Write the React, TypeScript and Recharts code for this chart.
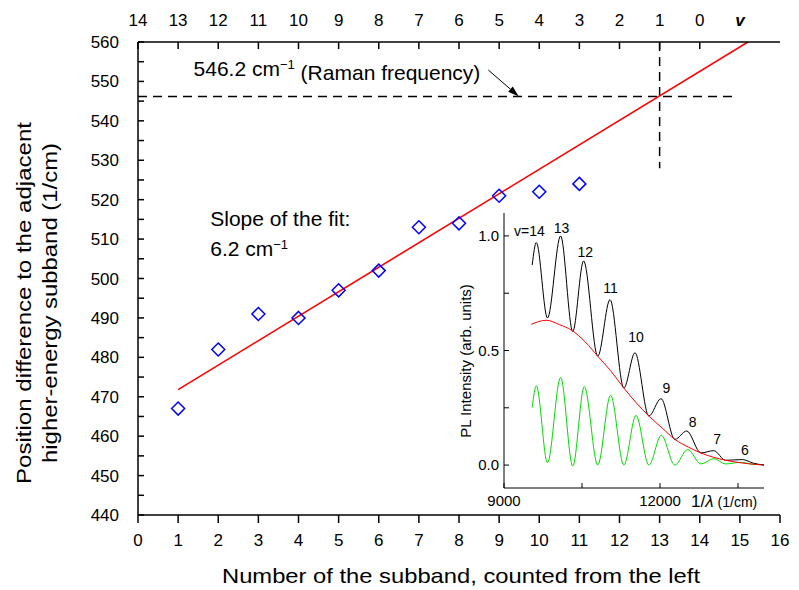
import React from "react";
import { ComposedChart, Line, Scatter, XAxis, YAxis, ReferenceLine } from "recharts";

const FONT = "'Liberation Sans', Arial, Helvetica, sans-serif";

// main panel: subband spacing vs subband number
const subbands = [1, 2, 3, 4, 5, 6, 7, 8, 9, 10, 11];
const positionDiff = [467, 482, 491, 490, 497, 502, 513, 514, 521, 522, 524];
const fitX = [1, 15.2];
const fitY = [471.8, 560];
const bottomTicks = [0, 1, 2, 3, 4, 5, 6, 7, 8, 9, 10, 11, 12, 13, 14, 15, 16];
const topTicks = [0, 1, 2, 3, 4, 5, 6, 7, 8, 9, 10, 11, 12, 13, 14, 15];
const topLabels = ["14", "13", "12", "11", "10", "9", "8", "7", "6", "5", "4", "3", "2", "1", "0", "v"];
const yTicks = [440, 445, 450, 455, 460, 465, 470, 475, 480, 485, 490, 495, 500, 505, 510, 515, 520, 525, 530, 535, 540, 545, 550, 555, 560];
const ramanFreq = 546.2;
const ramanLineEnd = 14.9;
const ramanSubband = 13;
const ramanMarkBottom = 528;
const arrowFrom = { x: 8.73, y: 552.9 };
const arrowTo = { x: 9.49, y: 546.2 };

const noteX = [1.385, 1.8, 1.8];
const noteY = [553.3, 515.3, 507.5];
const noteText = ["546.2 cm", "Slope of the fit:", "6.2 cm"];
const noteSup = ["\u22121", "", "\u22121"];
const noteTail = [" (Raman frequency)", "", ""];

// inset: PL spectrum
const blackX = [9542, 9622, 9836, 10089, 10322, 10531, 10803, 11039, 11305, 11519, 11786, 12019, 12286, 12514, 12786, 13033, 13261, 13585, 13800, 14000];
const blackY = [0.873, 0.971, 0.642, 1.0, 0.583, 0.891, 0.475, 0.722, 0.336, 0.49, 0.214, 0.29, 0.112, 0.149, 0.053, 0.063, 0.021, 0.024, 0.008, 0.0];
const redX = [9523, 9817, 10064, 10303, 10564, 10803, 11050, 11305, 11539, 11786, 12050, 12286, 12550, 12786, 13261, 13700, 14000];
const redY = [0.614, 0.632, 0.613, 0.588, 0.537, 0.475, 0.412, 0.336, 0.273, 0.214, 0.16, 0.112, 0.078, 0.053, 0.021, 0.006, 0.0];
const greenX = [9542, 9622, 9836, 10089, 10322, 10544, 10803, 11050, 11305, 11539, 11786, 12025, 12286, 12533, 12786, 13033, 13261, 13554, 13800, 14000];
const greenY = [0.251, 0.346, 0.01, 0.383, -0.005, 0.343, 0.0, 0.305, 0.0, 0.217, 0.0, 0.13, 0.0, 0.068, 0.005, 0.028, 0.005, 0.012, 0.003, 0.002];
const peakNames = ["v=14", "13", "12", "11", "10", "9", "8", "7", "6"];
const peakX = [9490, 10108, 10564, 11050, 11539, 12124, 12629, 13098, 13631];
const peakY = [1.023, 1.034, 0.931, 0.774, 0.558, 0.336, 0.188, 0.115, 0.068];
const insetXTicks = [9000, 10500, 12000, 13500];
const insetXLabeled = [9000, 12000];
const insetYTicks = [0, 0.25, 0.5, 0.75, 1.0];
const insetYLabeled = [0, 0.5, 1.0];

const zip = (xs: number[], ys: number[]) => xs.map((x, i) => ({ x, y: ys[i] }));

const points = zip(subbands, positionDiff);
const fit = zip(fitX, fitY);
const notes = noteX.map((x, i) => ({ x, y: noteY[i], text: noteText[i], sup: noteSup[i], tail: noteTail[i] }));
const blackPts = zip(blackX, blackY);
const redPts = zip(redX, redY);
const greenPts = zip(greenX, greenY);
const peaks = peakX.map((x, i) => ({ x, y: peakY[i], name: peakNames[i] }));

function Diamond(props: any) {
  const { cx, cy } = props;
  const r = 6.5;
  return (
    <polygon
      points={`${cx},${cy - r} ${cx + r},${cy} ${cx},${cy + r} ${cx - r},${cy}`}
      fill="none"
      stroke="#0000ff"
      strokeWidth={1.5}
    />
  );
}

function Note(props: any) {
  const { cx, cy, payload } = props;
  return (
    <text x={cx} y={cy} dy="0.36em" fontFamily={FONT} fontSize={21} fill="#000">
      {payload.text}
      {payload.sup ? (
        <tspan dy="-0.55em" fontSize={13}>{payload.sup}</tspan>
      ) : null}
      {payload.tail ? <tspan dy="0.55em">{payload.tail}</tspan> : null}
    </text>
  );
}

function PeakLabel(props: any) {
  const { cx, cy, payload } = props;
  return (
    <text x={cx} y={cy} dy="0.36em" textAnchor="middle" fontFamily={FONT} fontSize={14} fill="#000">
      {payload.name}
    </text>
  );
}

// top axis: label plus inward tick (no tick under the "v")
function TopTick(props: any) {
  const { x, y, payload } = props;
  const label = topLabels[topTicks.indexOf(payload.value)];
  const isV = label === "v";
  return (
    <g>
      {!isV && <line x1={x} y1={y + 16.5} x2={x} y2={y + 23.5} stroke="#000" strokeWidth={1.5} />}
      <text
        x={x}
        y={y}
        textAnchor="middle"
        fontFamily={FONT}
        fontSize={17}
        fontStyle={isV ? "italic" : "normal"}
        fontWeight={isV ? "bold" : "normal"}
        fill="#000"
      >
        {label}
      </text>
    </g>
  );
}

function Arrow(props: any) {
  const { x1, y1, x2, y2 } = props;
  const a = Math.atan2(y2 - y1, x2 - x1);
  const len = 11;
  const w = 3.5;
  const bx = x2 - len * Math.cos(a);
  const by = y2 - len * Math.sin(a);
  const px = -Math.sin(a) * w;
  const py = Math.cos(a) * w;
  return (
    <g>
      <line x1={x1} y1={y1} x2={bx} y2={by} stroke="#000" strokeWidth={1} />
      <polygon points={`${x2},${y2} ${bx + px},${by + py} ${bx - px},${by - py}`} fill="#000" />
    </g>
  );
}

const YTitle = () => (
  <g fontFamily={FONT} fontSize={21} fill="#000">
    <text x={31} y={303} transform="rotate(-90 31 303)" textAnchor="middle" textLength={362} lengthAdjust="spacingAndGlyphs">
      Position difference to the adjacent
    </text>
    <text x={57} y={303} transform="rotate(-90 57 303)" textAnchor="middle" textLength={320} lengthAdjust="spacingAndGlyphs">
      higher-energy subband (1/cm)
    </text>
  </g>
);

const XTitle = () => (
  <text x={461} y={583} textAnchor="middle" fontFamily={FONT} fontSize={21} fill="#000" textLength={478} lengthAdjust="spacingAndGlyphs">
    Number of the subband, counted from the left
  </text>
);

const InsetYTitle = () => (
  <text x={71} y={161} transform="rotate(-90 71 161)" textAnchor="middle" fontFamily={FONT} fontSize={15} fill="#000">
    PL Intensity (arb. units)
  </text>
);

const InsetXTitle = () => (
  <text x={291} y={307} fontFamily={FONT} fill="#000">
    <tspan fontSize={17}>1/</tspan>
    <tspan fontSize={17} fontStyle="italic">λ</tspan>
    <tspan fontSize={14} dx={4}>(1/cm)</tspan>
  </text>
);

function Inset() {
  const tick = { fill: "#000", fontSize: 15, fontFamily: FONT };
  return (
    <div style={{ position: "absolute", left: 400, top: 200 }}>
      <ComposedChart width={380} height={320} margin={{ top: 13, right: 16, bottom: 0, left: 0 }}>
        <XAxis
          type="number"
          dataKey="x"
          domain={[9000, 14000]}
          ticks={insetXTicks}
          interval={0}
          tickFormatter={(v: number) => (insetXLabeled.includes(v) ? String(v) : "")}
          height={32}
          tickSize={-5}
          tickMargin={12}
          stroke="#000"
          tick={tick}
          label={{ content: InsetXTitle }}
          allowDataOverflow
        />
        <XAxis
          xAxisId="top"
          orientation="top"
          type="number"
          dataKey="x"
          domain={[9000, 14000]}
          ticks={insetXTicks}
          interval={0}
          tickFormatter={() => ""}
          height={0}
          tickSize={-5}
          stroke="#000"
          allowDataOverflow
        />
        <YAxis
          type="number"
          dataKey="y"
          domain={[-0.1, 1.1]}
          ticks={insetYTicks}
          interval={0}
          tickFormatter={(v: number) => (insetYLabeled.includes(v) ? v.toFixed(1) : "")}
          width={104}
          tickSize={-5}
          tickMargin={10}
          stroke="#000"
          tick={tick}
          label={{ content: InsetYTitle }}
          allowDataOverflow
        />
        <YAxis
          yAxisId="r"
          orientation="right"
          type="number"
          domain={[-0.1, 1.1]}
          ticks={insetYTicks}
          interval={0}
          tickFormatter={() => ""}
          width={0}
          tickSize={-5}
          stroke="#000"
          allowDataOverflow
        />
        <Line data={greenPts} dataKey="y" type="monotone" stroke="#00dd00" strokeWidth={1} dot={false} isAnimationActive={false} />
        <Line data={blackPts} dataKey="y" type="monotone" stroke="#000" strokeWidth={1} dot={false} isAnimationActive={false} />
        <Line data={redPts} dataKey="y" type="monotone" stroke="#ff0000" strokeWidth={1} dot={false} isAnimationActive={false} />
        <Scatter data={peaks} dataKey="y" shape={PeakLabel} isAnimationActive={false} />
      </ComposedChart>
    </div>
  );
}

export default function App() {
  const tick = { fill: "#000", fontSize: 17, fontFamily: FONT };
  return (
    <div style={{ position: "relative", width: 799, height: 590, background: "#fff" }}>
      <style>{"body{margin:0}"}</style>
      <ComposedChart width={799} height={590} margin={{ top: 0, right: 19, bottom: 0, left: 0 }}>
        <XAxis
          type="number"
          dataKey="x"
          domain={[0, 16]}
          ticks={bottomTicks}
          interval={0}
          height={75}
          tickSize={8}
          tickMargin={11}
          stroke="#000"
          strokeWidth={1.5}
          tick={tick}
          label={{ content: XTitle }}
          allowDataOverflow
        />
        <XAxis
          xAxisId="top"
          orientation="top"
          type="number"
          dataKey="x"
          domain={[0, 16]}
          ticks={topTicks}
          interval={0}
          height={42}
          tickSize={-7}
          tickMargin={23.5}
          tickLine={false}
          stroke="#000"
          strokeWidth={1.5}
          tick={<TopTick />}
          allowDataOverflow
        />
        <YAxis
          type="number"
          dataKey="y"
          domain={[440, 560]}
          ticks={yTicks}
          interval={0}
          tickFormatter={(v: number) => (v % 10 === 0 ? String(v) : "")}
          width={138}
          tickSize={-6}
          tickMargin={25}
          stroke="#000"
          strokeWidth={1.5}
          tick={tick}
          label={{ content: YTitle }}
          allowDataOverflow
        />
        <YAxis
          yAxisId="right"
          orientation="right"
          type="number"
          domain={[440, 560]}
          ticks={yTicks}
          interval={0}
          tickFormatter={() => ""}
          width={0}
          tickSize={-6}
          stroke="#000"
          strokeWidth={1.5}
          allowDataOverflow
        />
        <ReferenceLine
          segment={[{ x: 0, y: ramanFreq }, { x: ramanLineEnd, y: ramanFreq }]}
          stroke="#000"
          strokeWidth={1.5}
          strokeDasharray="9 6"
        />
        <ReferenceLine
          segment={[{ x: ramanSubband, y: 560 }, { x: ramanSubband, y: ramanMarkBottom }]}
          stroke="#000"
          strokeWidth={1.5}
          strokeDasharray="9 6"
        />
        <ReferenceLine segment={[arrowFrom, arrowTo]} shape={Arrow} />
        <Line data={fit} dataKey="y" type="linear" stroke="#ff0000" strokeWidth={1.6} dot={false} isAnimationActive={false} />
        <Scatter data={points} dataKey="y" shape={Diamond} isAnimationActive={false} />
        <Scatter data={notes} dataKey="y" shape={Note} isAnimationActive={false} />
      </ComposedChart>
      <Inset />
    </div>
  );
}
